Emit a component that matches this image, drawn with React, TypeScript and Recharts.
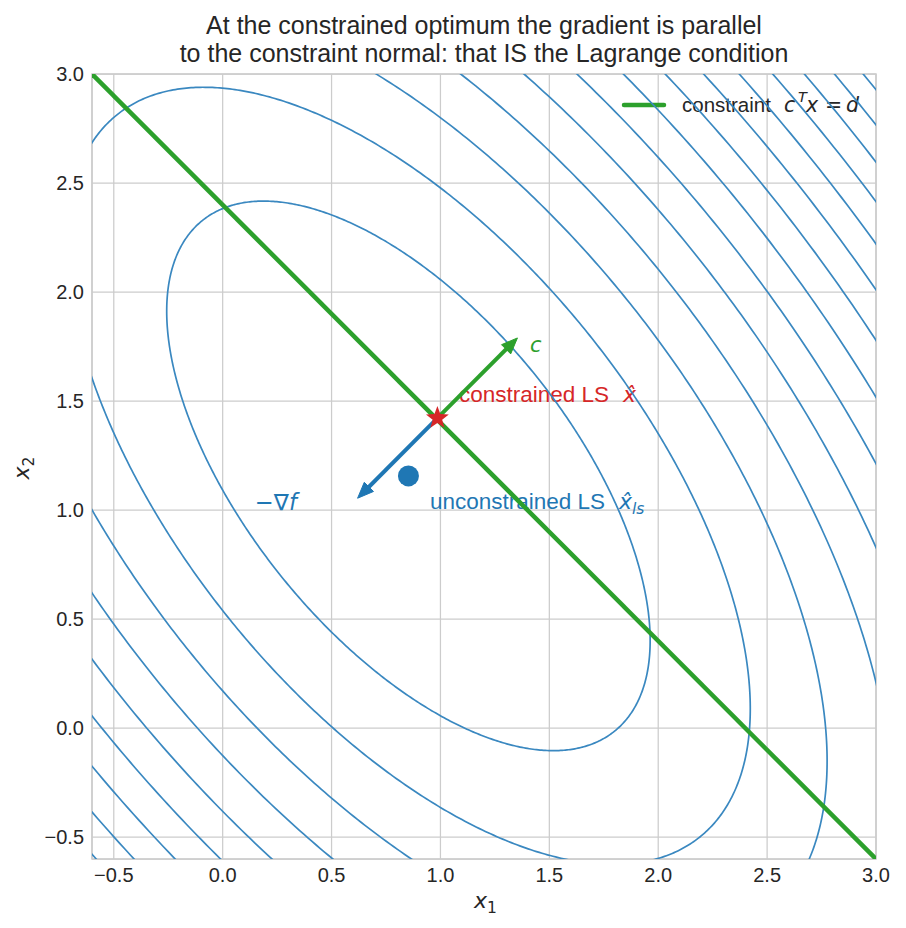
import React from "react";
import {
  ComposedChart, Line, Scatter, XAxis, YAxis, CartesianGrid, ReferenceArea, Customized,
} from "recharts";

// axes
const axisDomain = [-0.6, 3.0];
const axisTicks = [-0.5, 0, 0.5, 1.0, 1.5, 2.0, 2.5, 3.0];

// least-squares objective: contour ellipses around the unconstrained minimiser
const lsCenter = [0.853, 1.157];
const innerContourShape = [
  [1.232, -0.838],
  [-0.838, 1.588],
];
// contour levels, relative to the innermost one
const contourLevels = [1, 2, 3, 4, 5, 6, 7, 8, 9, 10, 11, 12, 13, 14];

// constraint c^T x = d  (c = [1, 1], d = 2.4)
const constraintLine = [
  { x: -0.6, y: 3.0 },
  { x: 3.0, y: -0.6 },
];
const constrainedOpt = [{ x: 0.986, y: 1.422 }];
const unconstrainedOpt = [{ x: 0.853, y: 1.157 }];
const arrowC = [
  { x: 0.986, y: 1.422 },
  { x: 1.334, y: 1.77 },
];
const arrowNegGrad = [
  { x: 0.986, y: 1.422 },
  { x: 0.639, y: 1.074 },
];

const SANS = "'Liberation Sans', Arial, sans-serif";
const MATH = "'DejaVu Sans', sans-serif";
const INK = "#262626";
const GREEN = "#2ca02c";
const BLUE = "#1f77b4";
const RED = "#d62728";
const CONTOUR = "#3a88c0";

// ellipse outline for one contour level
function contourPoints(level: number) {
  const s = innerContourShape;
  const r11 = Math.sqrt(s[0][0]);
  const r21 = s[1][0] / r11;
  const r22 = Math.sqrt(s[1][1] - r21 * r21);
  const k = Math.sqrt(level);
  const pts: { x: number; y: number }[] = [];
  for (let i = 0; i <= 720; i++) {
    const t = (i / 720) * 2 * Math.PI;
    const a = Math.cos(t);
    const b = Math.sin(t);
    pts.push({ x: lsCenter[0] + k * r11 * a, y: lsCenter[1] + k * (r21 * a + r22 * b) });
  }
  return pts;
}

const fmtTick = (v: number) => (v < 0 ? "\u2212" + Math.abs(v).toFixed(1) : v.toFixed(1));

function arrowHead(data: { x: number; y: number }[], color: string) {
  return (p: any) => {
    if (p.index !== data.length - 1) return <g key={`d${p.index}`} />;
    const a = data[data.length - 2];
    const b = data[data.length - 1];
    let dx = b.x - a.x;
    let dy = -(b.y - a.y);
    const n = Math.hypot(dx, dy);
    dx /= n;
    dy /= n;
    const tipX = p.cx + dx * 6;
    const tipY = p.cy + dy * 6;
    const len = 16;
    const hw = 6.5;
    const bx = tipX - dx * len;
    const by = tipY - dy * len;
    const pts = `${tipX},${tipY} ${bx - dy * hw},${by + dx * hw} ${bx + dy * hw},${by - dx * hw}`;
    return <polygon key={`d${p.index}`} points={pts} fill={color} stroke={color} strokeWidth={1} />;
  };
}

function StarShape(p: any) {
  const outer = 12;
  const inner = 5;
  const pts: string[] = [];
  for (let i = 0; i < 10; i++) {
    const r = i % 2 === 0 ? outer : inner;
    const ang = -Math.PI / 2 + (i * Math.PI) / 5;
    pts.push(`${p.cx + r * Math.cos(ang)},${p.cy + r * Math.sin(ang)}`);
  }
  return <polygon points={pts.join(" ")} fill={RED} />;
}

function DotShape(p: any) {
  return <circle cx={p.cx} cy={p.cy} r={10.5} fill={BLUE} />;
}

function Annotations() {
  return (
    <g>
      <text x={484} y={34} textAnchor="middle" fontFamily={SANS} fontSize={25} fill={INK}>
        At the constrained optimum the gradient is parallel
      </text>
      <text x={484} y={62} textAnchor="middle" fontFamily={SANS} fontSize={25} fill={INK}>
        to the constraint normal: that IS the Lagrange condition
      </text>

      {/* legend */}
      <line x1={624} y1={105} x2={664} y2={105} stroke={GREEN} strokeWidth={4.5} strokeLinecap="round" />
      <text x={682} y={112} fontFamily={SANS} fontSize={20.5} fill={INK}>constraint</text>
      <text x={784} y={112} fontFamily={MATH} fontStyle="italic" fontSize={20.5} fill={INK}>c</text>
      <text x={798} y={102} fontFamily={MATH} fontStyle="italic" fontSize={14.5} fill={INK}>T</text>
      <text x={806} y={112} fontFamily={MATH} fontStyle="italic" fontSize={20.5} fill={INK}>x</text>
      <text x={825} y={112} fontFamily={MATH} fontSize={20.5} fill={INK}>=</text>
      <text x={846} y={112} fontFamily={MATH} fontStyle="italic" fontSize={20.5} fill={INK}>d</text>

      {/* annotations */}
      <text x={530} y={352} fontFamily={MATH} fontStyle="italic" fontSize={21} fill={GREEN}>c</text>
      <text x={459} y={402} fontFamily={SANS} fontSize={22.5} fill={RED}>constrained LS</text>
      <text x={623} y={402} fontFamily={MATH} fontStyle="italic" fontSize={22} fill={RED}>x&#770;</text>
      <text x={255} y={510} fontFamily={MATH} fontSize={22.5} fill={BLUE}>
        {"\u2212\u2207"}<tspan fontStyle="italic">f</tspan>
      </text>
      <text x={430} y={509} fontFamily={SANS} fontSize={22.5} fill={BLUE}>unconstrained LS</text>
      <text x={619} y={509} fontFamily={MATH} fontStyle="italic" fontSize={22} fill={BLUE}>
        x&#770;<tspan dy={5} fontSize={15.5}>ls</tspan>
      </text>

      {/* axis labels */}
      <text x={474} y={908} fontFamily={MATH} fontStyle="italic" fontSize={22} fill={INK}>
        x<tspan dy={5} fontSize={15.5} fontStyle="normal">1</tspan>
      </text>
      <text transform="translate(29,468) rotate(-90)" textAnchor="middle" fontFamily={MATH} fontStyle="italic" fontSize={22} fill={INK}>
        x<tspan dy={5} fontSize={15.5} fontStyle="normal">2</tspan>
      </text>
    </g>
  );
}

export default function App() {
  return (
    <div style={{ position: "absolute", left: 0, top: 0, width: 906, height: 928, background: "#fff" }}>
      <ComposedChart width={906} height={928} margin={{ top: 74, right: 30, bottom: 29, left: 42 }}>
        <CartesianGrid stroke="#cccccc" strokeWidth={1.25} />
        <XAxis
          type="number" dataKey="x" domain={axisDomain} ticks={axisTicks} allowDataOverflow
          tickFormatter={fmtTick} tickLine={false} axisLine={false} height={40} tickSize={6} tickMargin={3}
          tick={{ fill: INK, fontSize: 20, fontFamily: SANS }} interval={0}
        />
        <YAxis
          type="number" dataKey="y" domain={axisDomain} ticks={axisTicks} allowDataOverflow
          tickFormatter={fmtTick} tickLine={false} axisLine={false} width={50} tickSize={6} tickMargin={2}
          tick={{ fill: INK, fontSize: 20, fontFamily: SANS }} interval={0}
        />
        {contourLevels.map((lv) => (
          <Line
            key={`c${lv}`} data={contourPoints(lv)} dataKey="y" type="linear" stroke={CONTOUR}
            strokeWidth={1.7} dot={false} activeDot={false} isAnimationActive={false}
          />
        ))}
        <ReferenceArea x1={-0.6} x2={3.0} y1={-0.6} y2={3.0} fill="none" stroke="#cccccc" strokeWidth={1.5} ifOverflow="visible" />
        <Line data={constraintLine} dataKey="y" stroke={GREEN} strokeWidth={4.5} dot={false} activeDot={false} isAnimationActive={false} />
        <Line data={arrowC} dataKey="y" stroke={GREEN} strokeWidth={4} dot={arrowHead(arrowC, GREEN)} activeDot={false} isAnimationActive={false} />
        <Line data={arrowNegGrad} dataKey="y" stroke={BLUE} strokeWidth={4} dot={arrowHead(arrowNegGrad, BLUE)} activeDot={false} isAnimationActive={false} />
        <Scatter data={unconstrainedOpt} shape={DotShape} isAnimationActive={false} />
        <Scatter data={constrainedOpt} shape={StarShape} isAnimationActive={false} />
        <Customized component={<Annotations />} />
      </ComposedChart>
    </div>
  );
}
